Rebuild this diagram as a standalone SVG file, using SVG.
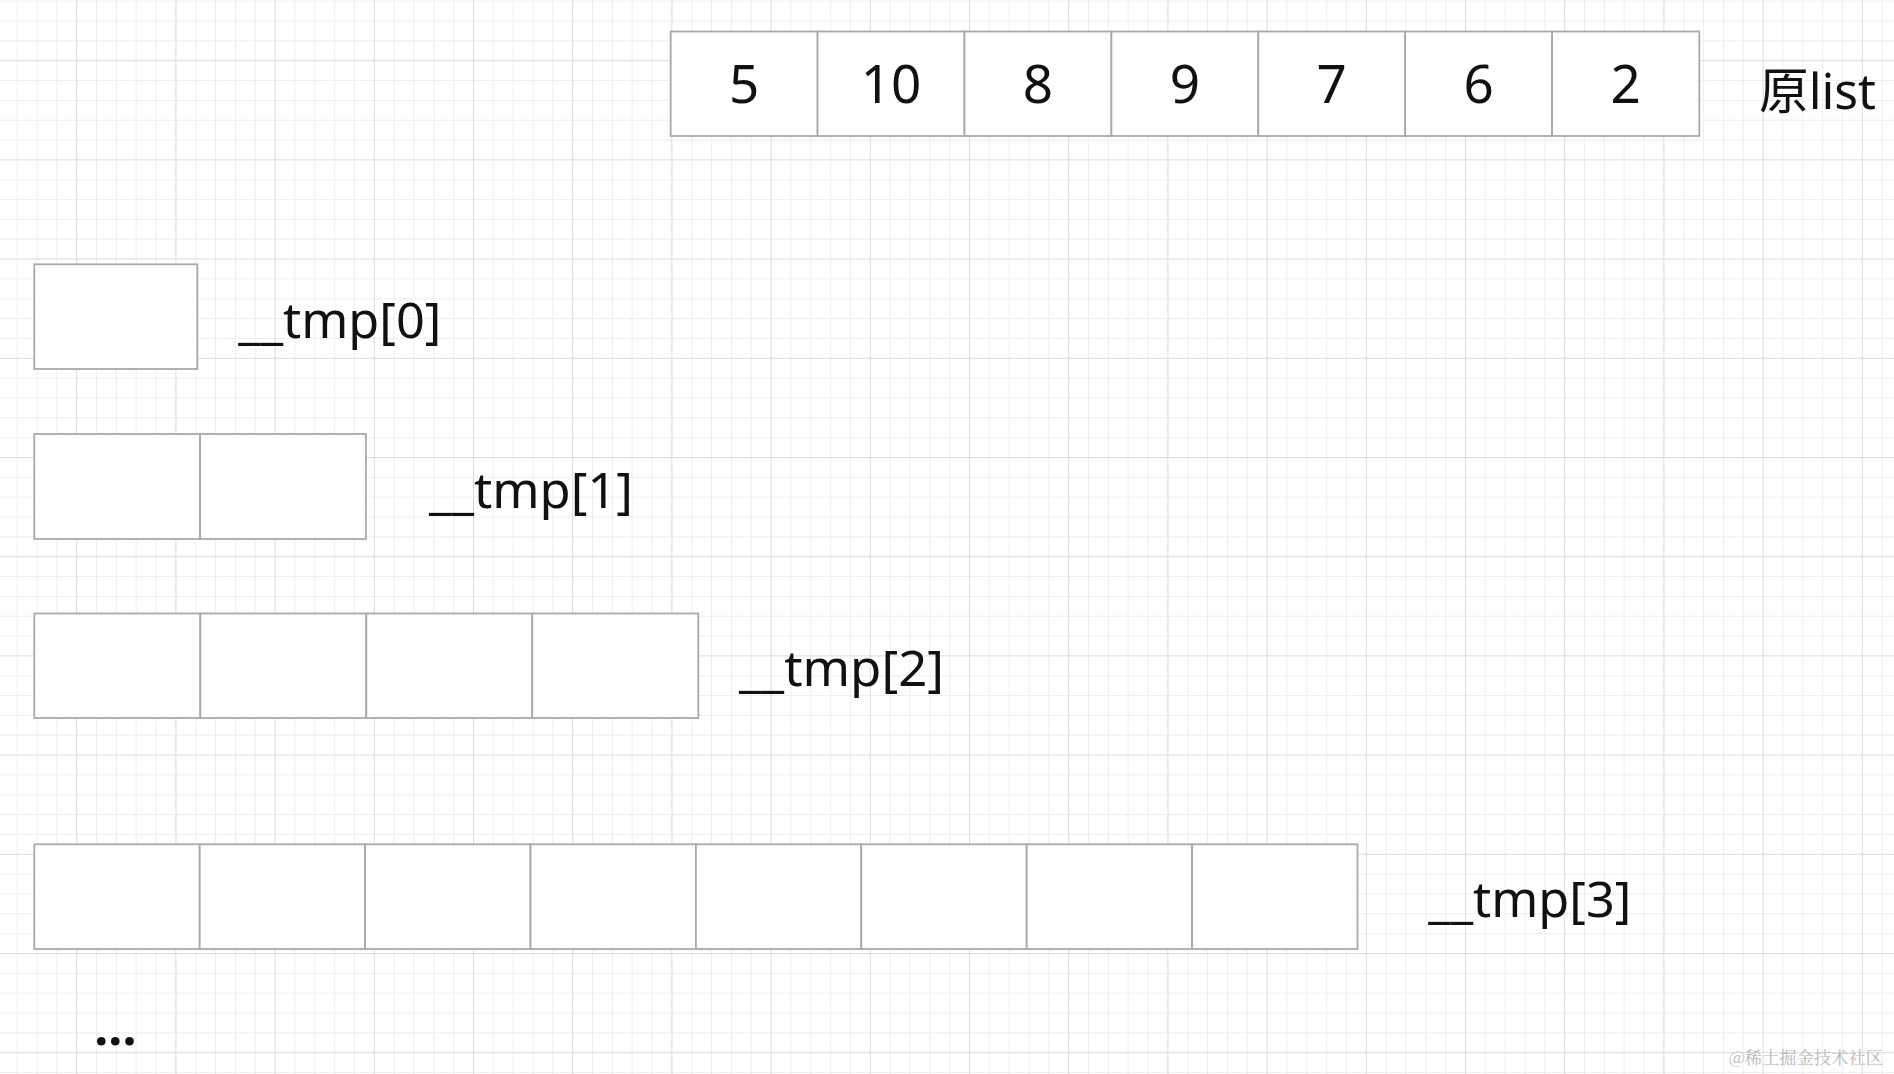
<svg xmlns="http://www.w3.org/2000/svg" width="1894" height="1074" viewBox="0 0 1894 1074">
  <style>
    .cell { fill: #ffffff; stroke: #a9a9a9; stroke-width: 1.8; }
    .num { font-family: "Noto Sans", "Open Sans", sans-serif; font-size: 53px; fill: #111111; text-anchor: middle; }
    .lbl { font-family: "Noto Sans", "Open Sans", "Noto Sans CJK SC", sans-serif; font-size: 50px; fill: #111111; }
    .wm { font-family: "Noto Serif CJK SC", "Noto Sans CJK SC", serif; font-size: 17px; fill: #b8b8b8; }
  </style>
  <defs>
    <pattern id="grid" patternUnits="userSpaceOnUse" x="76.2" y="60.2" width="99.2" height="99.2">
      <g fill="#eeeeee">
        <rect x="19.84" y="0" width="1" height="99.2"/>
        <rect x="39.68" y="0" width="1" height="99.2"/>
        <rect x="59.52" y="0" width="1" height="99.2"/>
        <rect x="79.36" y="0" width="1" height="99.2"/>
        <rect x="0" y="19.84" width="99.2" height="1"/>
        <rect x="0" y="39.68" width="99.2" height="1"/>
        <rect x="0" y="59.52" width="99.2" height="1"/>
        <rect x="0" y="79.36" width="99.2" height="1"/>
      </g>
      <g fill="#dadada">
        <rect x="0" y="0" width="1" height="99.2"/>
        <rect x="0" y="0" width="99.2" height="1"/>
      </g>
    </pattern>
  </defs>
  <rect x="0" y="0" width="1894" height="1074" fill="#ffffff"/>
  <rect x="0" y="0" width="1894" height="1074" fill="url(#grid)"/>

  <g id="connectors"/>

  <g id="orig-list">
    <rect class="cell" x="670.7" y="31.5" width="146.9" height="104.5"/>
    <rect class="cell" x="817.6" y="31.5" width="146.9" height="104.5"/>
    <rect class="cell" x="964.5" y="31.5" width="146.9" height="104.5"/>
    <rect class="cell" x="1111.4" y="31.5" width="146.9" height="104.5"/>
    <rect class="cell" x="1258.3" y="31.5" width="146.9" height="104.5"/>
    <rect class="cell" x="1405.2" y="31.5" width="146.9" height="104.5"/>
    <rect class="cell" x="1552.1" y="31.5" width="147.2" height="104.5"/>
    <text class="num" x="744.1" y="103.3">5</text>
    <text class="num" x="891.0" y="103.3">10</text>
    <text class="num" x="1037.9" y="103.3">8</text>
    <text class="num" x="1184.8" y="103.3">9</text>
    <text class="num" x="1331.7" y="103.3">7</text>
    <text class="num" x="1478.6" y="103.3">6</text>
    <text class="num" x="1625.6" y="103.3">2</text>
    <text class="lbl" x="1759" y="109" textLength="117" lengthAdjust="spacingAndGlyphs">原list</text>
  </g>

  <g id="tmp0">
    <rect class="cell" x="34.3" y="264.3" width="163" height="104.7"/>
    <text class="lbl" x="238.3" y="338.3" textLength="203" lengthAdjust="spacingAndGlyphs">__tmp[0]</text>
  </g>

  <g id="tmp1">
    <rect class="cell" x="34.3" y="434" width="165.8" height="105"/>
    <rect class="cell" x="200.1" y="434" width="165.8" height="105"/>
    <text class="lbl" x="429" y="507.5" textLength="204" lengthAdjust="spacingAndGlyphs">__tmp[1]</text>
  </g>

  <g id="tmp2">
    <rect class="cell" x="34.3" y="613.5" width="166" height="104.5"/>
    <rect class="cell" x="200.3" y="613.5" width="166" height="104.5"/>
    <rect class="cell" x="366.3" y="613.5" width="166" height="104.5"/>
    <rect class="cell" x="532.3" y="613.5" width="166" height="104.5"/>
    <text class="lbl" x="739" y="686" textLength="205" lengthAdjust="spacingAndGlyphs">__tmp[2]</text>
  </g>

  <g id="tmp3">
    <rect class="cell" x="34.3" y="844.3" width="165.4" height="104.7"/>
    <rect class="cell" x="199.7" y="844.3" width="165.4" height="104.7"/>
    <rect class="cell" x="365.1" y="844.3" width="165.4" height="104.7"/>
    <rect class="cell" x="530.5" y="844.3" width="165.4" height="104.7"/>
    <rect class="cell" x="695.9" y="844.3" width="165.4" height="104.7"/>
    <rect class="cell" x="861.3" y="844.3" width="165.4" height="104.7"/>
    <rect class="cell" x="1026.7" y="844.3" width="165.4" height="104.7"/>
    <rect class="cell" x="1192.1" y="844.3" width="165.4" height="104.7"/>
    <text class="lbl" x="1428.3" y="917.3" textLength="203" lengthAdjust="spacingAndGlyphs">__tmp[3]</text>
  </g>

  <g id="ellipsis">
    <text class="lbl" x="94.3" y="1045" font-weight="bold">...</text>
  </g>

  <g id="watermark">
    <text class="wm" x="1729" y="1064" textLength="154" lengthAdjust="spacingAndGlyphs">@稀土掘金技术社区</text>
  </g>
</svg>
